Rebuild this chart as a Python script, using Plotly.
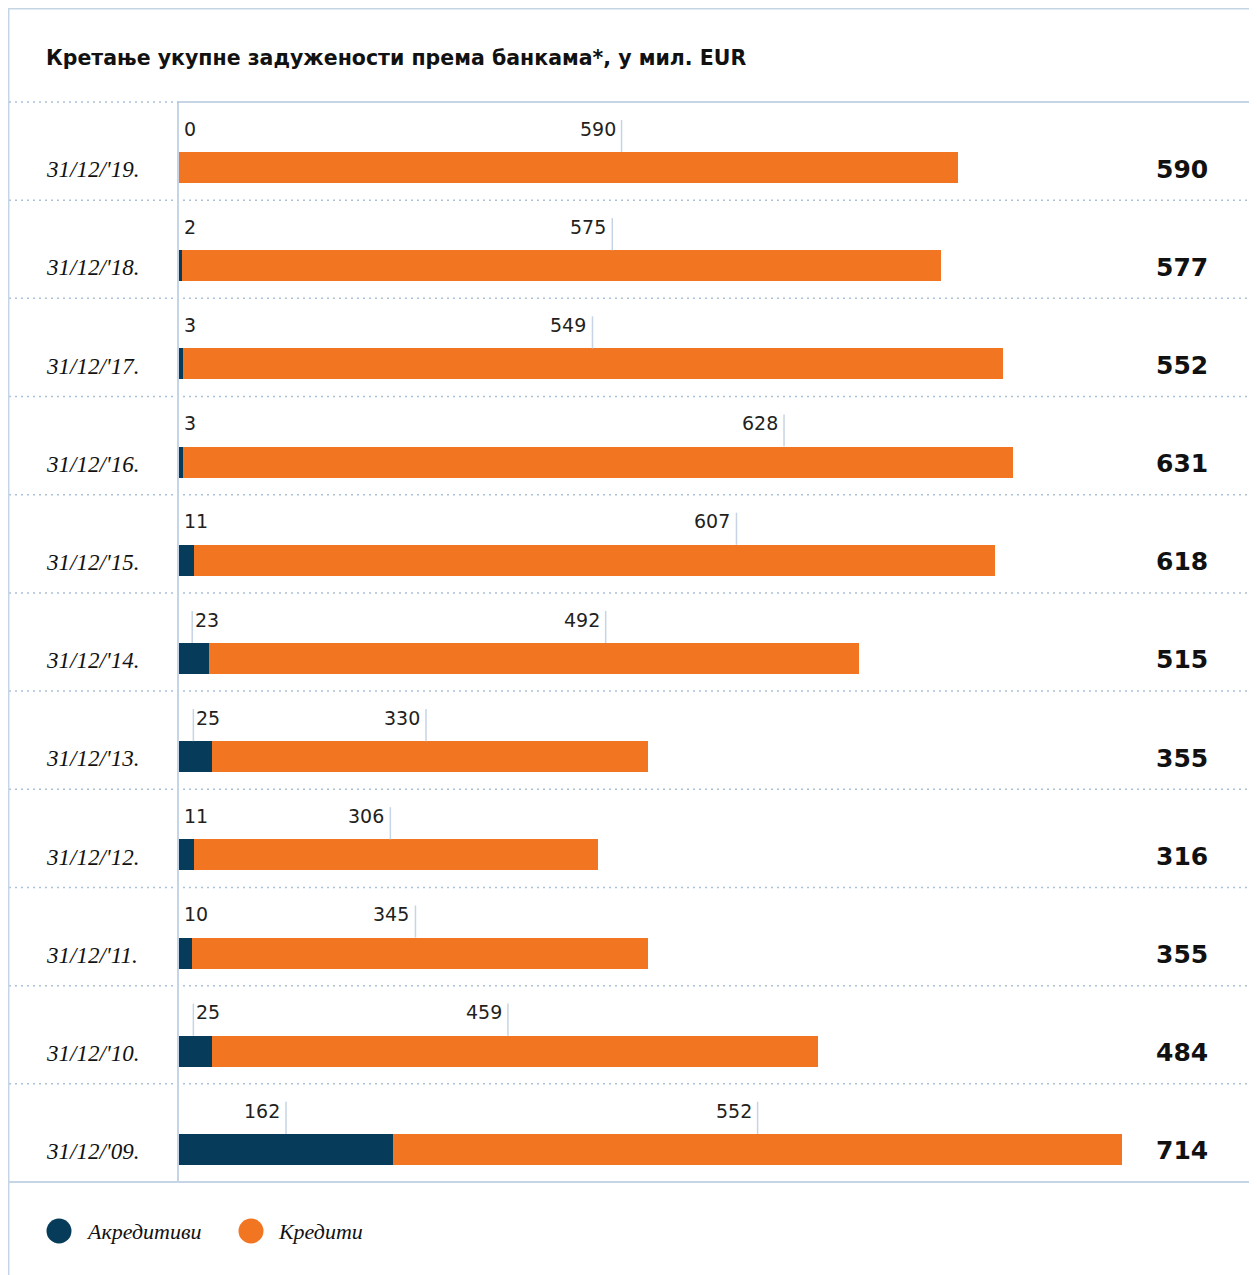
import plotly.graph_objects as go

# ---- data ----
dates = ["31/12/'19.", "31/12/'18.", "31/12/'17.", "31/12/'16.", "31/12/'15.", "31/12/'14.",
         "31/12/'13.", "31/12/'12.", "31/12/'11.", "31/12/'10.", "31/12/'09."]
akreditivi = [0, 2, 3, 3, 11, 23, 25, 11, 10, 25, 162]
krediti = [590, 575, 549, 628, 607, 492, 330, 306, 345, 459, 552]
# bar lengths as drawn in the reference (2017 bar is drawn longer than its label)
krediti_bar = [590, 575, 621, 628, 607, 492, 330, 306, 345, 459, 552]
totals = [590, 577, 552, 631, 618, 515, 355, 316, 355, 484, 714]
# where the reference puts the "Кредити" value label (leader line), in EUR mil. units
kred_label_at = [335, 328, 313, 458, 422, 323, 187, 160, 179, 249, 438]
series_names = ["Акредитиви", "Кредити"]

# ---- styling ----
ORANGE = "#F27522"
NAVY = "#073B5A"
LINE = "#C5D5E5"
DOT = "#A9C1D9"
OFF = 8  # page body margin
W, H = 1257 - OFF, 1275 - OFF
PL, PR, PT, PB = 179 - OFF, 1253 - OFF, 102 - OFF, 1182 - OFF  # plot area in pixels
XMAX = (PR - PL) / 1.321


def px_x(px):
    return (px - OFF - PL) / (PR - PL)


def px_y(py):
    return (PB - (py - OFF)) / (PB - PT)


n = len(dates)
pos = list(range(n))

fig = go.Figure()
fig.add_trace(go.Bar(y=pos, x=akreditivi, orientation="h", marker_color=NAVY, name=series_names[0],
                     offset=0.01, width=0.316, showlegend=False, hoverinfo="skip",
                     marker_line_width=0))
fig.add_trace(go.Bar(y=pos, x=krediti_bar, base=akreditivi, orientation="h", marker_color=ORANGE,
                     name=series_names[1], offset=0.01, width=0.316, showlegend=False, hoverinfo="skip",
                     marker_line_width=0))

shapes = []
annotations = []
LBL_FONT = dict(family="DejaVu Sans", size=19, color="#231F20")

for i in range(n):
    # Кредити value label with leader line
    xk = kred_label_at[i]
    shapes.append(dict(type="line", xref="x", yref="y", x0=xk, x1=xk, y0=i - 0.317, y1=i + 0.01,
                       line=dict(color=LINE, width=1.5)))
    annotations.append(dict(x=xk, y=i - 0.228, xref="x", yref="y", text=str(krediti[i]),
                            showarrow=False, xanchor="right", yanchor="middle", xshift=-4,
                            font=LBL_FONT))
    # Акредитиви value label
    a = akreditivi[i]
    if a >= 100:
        xa = a / 2
        shapes.append(dict(type="line", xref="x", yref="y", x0=xa, x1=xa, y0=i - 0.317, y1=i + 0.01,
                           line=dict(color=LINE, width=1.5)))
        annotations.append(dict(x=xa, y=i - 0.228, xref="x", yref="y", text=str(a),
                                showarrow=False, xanchor="right", yanchor="middle", xshift=-4,
                                font=LBL_FONT))
    elif a >= 20:
        xa = a / 2.3
        shapes.append(dict(type="line", xref="x", yref="y", x0=xa, x1=xa, y0=i - 0.317, y1=i + 0.01,
                           line=dict(color=LINE, width=1.5)))
        annotations.append(dict(x=xa, y=i - 0.228, xref="x", yref="y", text=str(a),
                                showarrow=False, xanchor="left", yanchor="middle", xshift=1,
                                font=LBL_FONT))
    else:
        annotations.append(dict(x=0, y=i - 0.228, xref="x", yref="y", text=str(a),
                                showarrow=False, xanchor="left", yanchor="middle", xshift=3,
                                font=LBL_FONT))
    # totals
    annotations.append(dict(x=px_x(1182), y=i + 0.183, xref="paper", yref="y", text=str(totals[i]),
                            showarrow=False, xanchor="center", yanchor="middle",
                            font=dict(family="DejaVu Sans", size=25, color="#111111", weight="bold")))
    # date labels
    annotations.append(dict(x=px_x(44), y=i + 0.19, xref="paper", yref="y", text=dates[i],
                            showarrow=False, xanchor="left", yanchor="middle",
                            font=dict(family="Liberation Serif", size=23, color="#111111", style="italic")))
    # row separators
    if i < n - 1:
        shapes.append(dict(type="line", xref="paper", yref="y", x0=px_x(9), x1=1, y0=i + 0.5, y1=i + 0.5,
                           line=dict(color=DOT, width=1.5, dash="2px,4px"), layer="below"))

# legend (circles + italic labels)
legend_colors = [NAVY, ORANGE]
legend_cx = [59, 251]
for k in range(2):
    cx, cy, r = legend_cx[k], 1231, 12.5
    shapes.append(dict(type="circle", xref="paper", yref="paper",
                       x0=px_x(cx - r), x1=px_x(cx + r), y0=px_y(cy + r), y1=px_y(cy - r),
                       fillcolor=legend_colors[k], line=dict(width=0)))
    annotations.append(dict(x=px_x(cx + 25), y=px_y(cy), xref="paper", yref="paper",
                            text=series_names[k], showarrow=False, xanchor="left", yanchor="middle",
                            font=dict(family="Liberation Serif", size=22, color="#111111", style="italic")))

# frame lines
shapes += [
    dict(type="rect", xref="paper", yref="paper", x0=px_x(8.75), x1=px_x(1252.5), y0=px_y(1300), y1=px_y(8.75),
         line=dict(color=LINE, width=1.5), layer="below"),
    dict(type="line", xref="paper", yref="paper", x0=0, x1=1, y0=1, y1=1,
         line=dict(color=LINE, width=2)),
    dict(type="line", xref="paper", yref="paper", x0=px_x(9), x1=0, y0=1, y1=1,
         line=dict(color=DOT, width=1.5, dash="2px,4px")),
    dict(type="line", xref="paper", yref="paper", x0=px_x(8), x1=1, y0=0, y1=0,
         line=dict(color=LINE, width=2)),
]

fig.update_layout(
    width=W, height=H,
    margin=dict(l=PL, r=W - PR, t=PT, b=H - PB),
    paper_bgcolor="white", plot_bgcolor="white",
    barmode="overlay",
    bargap=0,
    hovermode=False,
    showlegend=False,
    title=dict(text="Кретање укупне задужености према банкама*, у мил. EUR",
               x=(46 - OFF) / W, y=1 - (58 - OFF) / H, xanchor="left", yanchor="middle",
               xref="container", yref="container",
               font=dict(family="DejaVu Sans", size=20.5, color="#111111", weight="bold")),
    xaxis=dict(range=[0, XMAX], visible=False, fixedrange=True),
    yaxis=dict(range=[n - 0.5, -0.5], showticklabels=False, showgrid=False, zeroline=False,
               showline=True, linecolor=LINE, linewidth=2, ticks="", fixedrange=True),
    shapes=shapes,
    annotations=annotations,
)

fig.write_html("out.html")
